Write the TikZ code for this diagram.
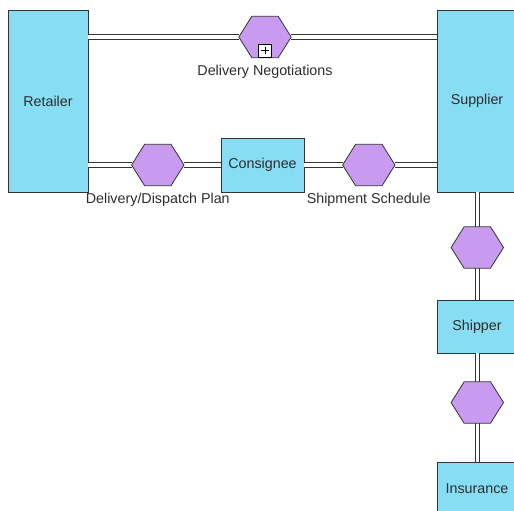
\documentclass[tikz,border=0pt]{standalone}
\usepackage{fontspec}
\setmainfont{Liberation Sans}
\definecolor{boxfill}{RGB}{135,221,244}
\definecolor{hexfill}{RGB}{201,155,240}
\definecolor{edge}{RGB}{51,51,51}
\definecolor{txt}{RGB}{45,45,45}
\tikzset{
  partbox/.style={draw=edge, line width=0.8pt, fill=boxfill, inner sep=0pt,
    font=\fontsize{14.3}{17}\selectfont, text=txt},
  hexbox/.style={minimum width=52pt, minimum height=41pt, inner sep=0pt},
  hexline/.style={draw=edge, line width=0.8pt, fill=hexfill, line join=miter},
  pipe/.style={draw=edge, line width=5.6pt, postaction={draw=white, line width=3.6pt}},
  lbl/.style={font=\fontsize{14.3}{17}\selectfont, text=txt, inner sep=0pt},
  plusbox/.style={draw=black, line width=0.7pt, fill=white, minimum width=13pt, minimum height=13pt, inner sep=0pt}
}
\newcommand\hexof[1]{\draw[hexline] (#1.west) -- ([xshift=13pt]#1.north west) -- ([xshift=-13pt]#1.north east) -- (#1.east) -- ([xshift=-13pt]#1.south east) -- ([xshift=13pt]#1.south west) -- cycle;}
\begin{document}
\begin{tikzpicture}[x=1pt,y=-1pt]
\useasboundingbox (0,0) rectangle (514,511);
\clip (0,0) rectangle (514,511);
% participants
\node[partbox, minimum width=80pt, minimum height=182pt] (ret) at (48,101) {Retailer};
\node[partbox, minimum width=80pt, minimum height=182pt] (sup) at (477,101) {Supplier};
\node[partbox, minimum width=83pt, minimum height=54pt] (con) at (262.5,165) {Consignee};
\node[partbox, minimum width=80pt, minimum height=53pt] (shi) at (477,326.5) {Shipper};
\node[partbox, minimum width=80pt, minimum height=53pt] (ins) at (477,488.5) {Insurance};
% conversation anchors
\node[hexbox] (h1) at (265,37) {};
\node[hexbox] (h2) at (157.8,165) {};
\node[hexbox] (h3) at (368.8,165) {};
\node[hexbox] (h4) at (477.3,247.5) {};
\node[hexbox] (h5) at (477.3,402.5) {};
% links
\draw[pipe] (h1.west -| ret.east) -- (h1.west);
\draw[pipe] (h1.east) -- (h1.east -| sup.west);
\draw[pipe] (h2.west -| ret.east) -- (h2.west);
\draw[pipe] (h2.east) -- (h2.east -| con.west);
\draw[pipe] (h3.west -| con.east) -- (h3.west);
\draw[pipe] (h3.east) -- (h3.east -| sup.west);
\draw[pipe] (h4.north |- sup.south) -- (h4.north);
\draw[pipe] (h4.south) -- (h4.south |- shi.north);
\draw[pipe] (h5.north |- shi.south) -- (h5.north);
\draw[pipe] (h5.south) -- (h5.south |- ins.north);
% conversation shapes
\hexof{h1}\hexof{h2}\hexof{h3}\hexof{h4}\hexof{h5}
\node[plusbox, anchor=south] (pl) at ([yshift=0.4pt]h1.south) {};
\draw[line width=0.8pt] ([yshift=-3pt]pl.north) -- ([yshift=3pt]pl.south);
\draw[line width=0.8pt] ([xshift=3pt]pl.west) -- ([xshift=-3pt]pl.east);
% labels
\node[lbl] (l1) at ([yshift=-14pt]h1.south) {Delivery Negotiations};
\node[lbl] (l2) at ([yshift=-14pt]h2.south) {Delivery/Dispatch Plan};
\node[lbl] (l3) at ([yshift=-14pt]h3.south) {Shipment Schedule};
\end{tikzpicture}
\end{document}
